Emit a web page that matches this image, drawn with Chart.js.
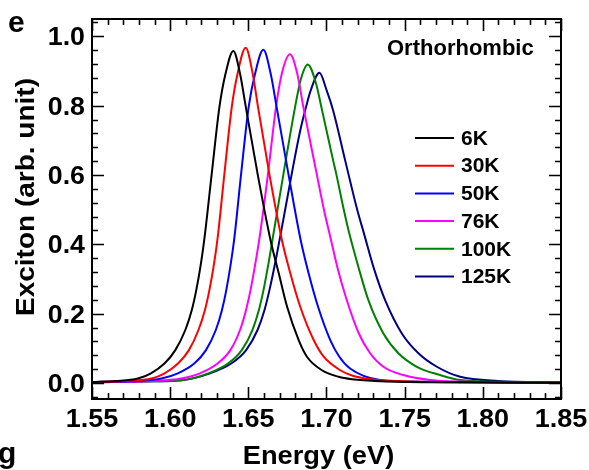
<!DOCTYPE html>
<html>
<head>
<meta charset="utf-8">
<script src="https://cdn.jsdelivr.net/npm/chart.js@4.4.1/dist/chart.umd.min.js"></script>
<style>
html, body { margin: 0; padding: 0; background: #fff; }
#wrap { width: 589px; height: 470px; position: relative; }
</style>
</head>
<body>
<div id="wrap"><canvas id="exciton-chart"></canvas></div>
<script>
// exciton line shape vs photon energy, one curve per temperature
var temps = ['6K', '30K', '50K', '76K', '100K', '125K'];

var energy6K  = [1.55, 1.565, 1.5794, 1.5877, 1.5965, 1.6033, 1.6097, 1.6138, 1.6167, 1.6197, 1.622, 1.6266, 1.6315, 1.6354, 1.6404, 1.6447, 1.6484, 1.6559, 1.6642, 1.6695, 1.6748, 1.6822, 1.6875, 1.6971, 1.7078, 1.7163, 1.735, 1.77, 1.85];
var exciton6K = [0.003, 0.006, 0.013, 0.028, 0.057, 0.095, 0.153, 0.210, 0.268, 0.345, 0.420, 0.604, 0.796, 0.892, 0.958, 0.892, 0.796, 0.604, 0.412, 0.316, 0.220, 0.124, 0.076, 0.037, 0.018, 0.011, 0.005, 0.002, 0.001];

var energy30K  = [1.55, 1.572, 1.5881, 1.5964, 1.6052, 1.612, 1.6181, 1.6222, 1.6251, 1.6281, 1.6304, 1.6347, 1.6394, 1.6431, 1.6483, 1.6528, 1.6562, 1.6634, 1.6715, 1.6769, 1.6832, 1.6918, 1.6982, 1.7088, 1.7163, 1.73, 1.76, 1.80, 1.85];
var exciton30K = [0.003, 0.006, 0.013, 0.028, 0.057, 0.095, 0.153, 0.210, 0.268, 0.345, 0.420, 0.604, 0.796, 0.892, 0.967, 0.892, 0.796, 0.604, 0.412, 0.316, 0.220, 0.124, 0.076, 0.037, 0.022, 0.010, 0.004, 0.002, 0.001];

var energy50K  = [1.55, 1.58, 1.5944, 1.6049, 1.6156, 1.6229, 1.6292, 1.6331, 1.6359, 1.6388, 1.6411, 1.6454, 1.6502, 1.6543, 1.6596, 1.6643, 1.6681, 1.6756, 1.6835, 1.6886, 1.6946, 1.7024, 1.7082, 1.7151, 1.7342, 1.76, 1.80, 1.85];
var exciton50K = [0.003, 0.006, 0.013, 0.028, 0.057, 0.095, 0.153, 0.210, 0.268, 0.345, 0.420, 0.604, 0.796, 0.892, 0.961, 0.892, 0.796, 0.604, 0.412, 0.316, 0.220, 0.124, 0.076, 0.042, 0.009, 0.004, 0.002, 0.001];

var energy76K  = [1.55, 1.59, 1.607, 1.619, 1.6305, 1.6385, 1.6447, 1.6485, 1.6514, 1.6545, 1.6572, 1.6626, 1.6677, 1.6714, 1.6767, 1.6813, 1.6852, 1.6937, 1.6984, 1.7025, 1.7069, 1.713, 1.7207, 1.7279, 1.7364, 1.7492, 1.7663, 1.80, 1.85];
var exciton76K = [0.002, 0.006, 0.013, 0.028, 0.057, 0.095, 0.153, 0.210, 0.268, 0.345, 0.420, 0.604, 0.796, 0.892, 0.948, 0.892, 0.796, 0.604, 0.499, 0.420, 0.335, 0.239, 0.143, 0.086, 0.047, 0.023, 0.009, 0.003, 0.001];

var energy100K  = [1.55, 1.59, 1.6073, 1.6244, 1.6372, 1.6458, 1.6526, 1.6567, 1.6597, 1.6629, 1.6657, 1.6725, 1.6799, 1.6835, 1.688, 1.6933, 1.697, 1.7042, 1.7062, 1.7111, 1.7146, 1.7204, 1.7268, 1.7364, 1.746, 1.7578, 1.7727, 1.7855, 1.82, 1.85];
var exciton100K = [0.002, 0.005, 0.008, 0.028, 0.057, 0.095, 0.153, 0.210, 0.268, 0.345, 0.420, 0.604, 0.796, 0.875, 0.919, 0.864, 0.790, 0.643, 0.604, 0.499, 0.431, 0.335, 0.239, 0.143, 0.086, 0.047, 0.023, 0.009, 0.003, 0.002];

var energy125K  = [1.55, 1.59, 1.6073, 1.6255, 1.6393, 1.6486, 1.6559, 1.6603, 1.6635, 1.6671, 1.6703, 1.6778, 1.683, 1.6869, 1.6899, 1.6955, 1.7001, 1.7042, 1.7119, 1.7197, 1.724, 1.730, 1.7375, 1.7482, 1.7588, 1.7706, 1.7855, 1.81, 1.85];
var exciton125K = [0.002, 0.005, 0.008, 0.028, 0.057, 0.095, 0.153, 0.210, 0.268, 0.345, 0.420, 0.604, 0.724, 0.796, 0.844, 0.895, 0.844, 0.787, 0.643, 0.499, 0.431, 0.335, 0.239, 0.143, 0.086, 0.047, 0.018, 0.006, 0.002];

var xTicks = [1.55, 1.60, 1.65, 1.70, 1.75, 1.80, 1.85];
var xTickLabels = ['1.55', '1.60', '1.65', '1.70', '1.75', '1.80', '1.85'];
var yTicks = [0.0, 0.2, 0.4, 0.6, 0.8, 1.0];
var yTickLabels = ['0.0', '0.2', '0.4', '0.6', '0.8', '1.0'];

var energies = [energy6K, energy30K, energy50K, energy76K, energy100K, energy125K];
var excitons = [exciton6K, exciton30K, exciton50K, exciton76K, exciton100K, exciton125K];
var lineColors = ['#000000', '#ff0000', '#0000ff', '#ff00ff', '#008000', '#000080'];

var FONT = '"Liberation Sans", Arial, sans-serif';

function pairs(xs, ys) {
  return xs.map(function (x, i) { return { x: x, y: ys[i] }; });
}

// bold text, a little wider than the stock face
function wideText(ctx, text, x, y, size, sx, align) {
  ctx.save();
  ctx.translate(x, y);
  ctx.scale(sx, 1);
  ctx.font = 'bold ' + size + 'px ' + FONT;
  ctx.textAlign = align;
  ctx.textBaseline = 'alphabetic';
  ctx.fillStyle = '#000';
  ctx.fillText(text, 0, 0);
  ctx.restore();
}

var datasets = temps.map(function (t, i) {
  return {
    label: t,
    data: pairs(energies[i], excitons[i]),
    borderColor: lineColors[i],
    backgroundColor: lineColors[i],
    borderWidth: 2,
    pointRadius: 0,
    fill: false,
    cubicInterpolationMode: 'monotone'
  };
});

// box, inward ticks on all four sides, tick labels, legend and titles
var decorations = {
  id: 'decorations',
  afterDatasetsDraw: function (chart) {
    var ctx = chart.ctx, a = chart.chartArea;
    var x = chart.scales.x, y = chart.scales.y;
    ctx.save();
    ctx.strokeStyle = '#000';
    ctx.lineWidth = 2;
    ctx.strokeRect(a.left, a.top, a.right - a.left, a.bottom - a.top);

    ctx.lineWidth = 1.6;
    ctx.beginPath();
    for (var i = 0; i <= 30; i++) {
      var px = Math.round(x.getPixelForValue(1.55 + i * 0.01)) + 0.5;
      var len = i % 5 === 0 ? 12 : 6;
      ctx.moveTo(px, a.bottom); ctx.lineTo(px, a.bottom - len);
      ctx.moveTo(px, a.top); ctx.lineTo(px, a.top + len);
    }
    for (var k = -1; k <= 26; k++) {
      var py = Math.round(y.getPixelForValue(k * 0.04)) + 0.5;
      var l2 = k % 5 === 0 ? 12 : 6;
      ctx.moveTo(a.left, py); ctx.lineTo(a.left + l2, py);
      ctx.moveTo(a.right, py); ctx.lineTo(a.right - l2, py);
    }
    ctx.stroke();

    xTicks.forEach(function (v, j) {
      wideText(ctx, xTickLabels[j], x.getPixelForValue(v), 427, 25, 1.08, 'center');
    });
    yTicks.forEach(function (v, j) {
      wideText(ctx, yTickLabels[j], 85, y.getPixelForValue(v) + 9, 25, 1.07, 'right');
    });

    // legend
    ctx.font = 'bold 21px ' + FONT;
    ctx.textBaseline = 'middle';
    ctx.textAlign = 'left';
    chart.data.datasets.forEach(function (ds, j) {
      var ly = 138 + j * 27.7;
      ctx.strokeStyle = ds.borderColor;
      ctx.lineWidth = 2;
      ctx.beginPath();
      ctx.moveTo(415, ly); ctx.lineTo(454, ly);
      ctx.stroke();
      ctx.fillStyle = '#000';
      ctx.fillText(ds.label, 461, ly + 1);
    });

    ctx.font = 'bold 22px ' + FONT;
    ctx.fillText('Orthorhombic', 387, 49);

    wideText(ctx, 'e', 8, 32, 30, 1, 'left');
    wideText(ctx, 'g', -2, 463, 30, 1, 'left');

    wideText(ctx, 'Energy (eV)', 318.5, 463.5, 25, 1.09, 'center');

    ctx.translate(34, 197);
    ctx.rotate(-Math.PI / 2);
    wideText(ctx, 'Exciton (arb. unit)', 0, 0, 25, 1.12, 'center');
    ctx.restore();
  }
};

new Chart(document.getElementById('exciton-chart'), {
  type: 'line',
  data: { datasets: datasets },
  plugins: [decorations],
  options: {
    responsive: true,
    maintainAspectRatio: false,
    devicePixelRatio: 1,
    animation: false,
    layout: { padding: { left: 0, right: 28, top: 19, bottom: 0 } },
    plugins: { legend: { display: false }, tooltip: { enabled: false } },
    scales: {
      x: {
        type: 'linear',
        min: 1.55,
        max: 1.85,
        afterBuildTicks: function (s) { s.ticks = xTicks.map(function (v) { return { value: v }; }); },
        afterFit: function (s) { s.height = 71; },
        grid: { display: false },
        border: { display: false },
        ticks: { display: false }
      },
      y: {
        type: 'linear',
        min: -0.046,
        max: 1.05,
        afterBuildTicks: function (s) { s.ticks = yTicks.map(function (v) { return { value: v }; }); },
        afterFit: function (s) { s.width = 92; },
        grid: { display: false },
        border: { display: false },
        ticks: { display: false }
      }
    }
  }
});
</script>
</body>
</html>
